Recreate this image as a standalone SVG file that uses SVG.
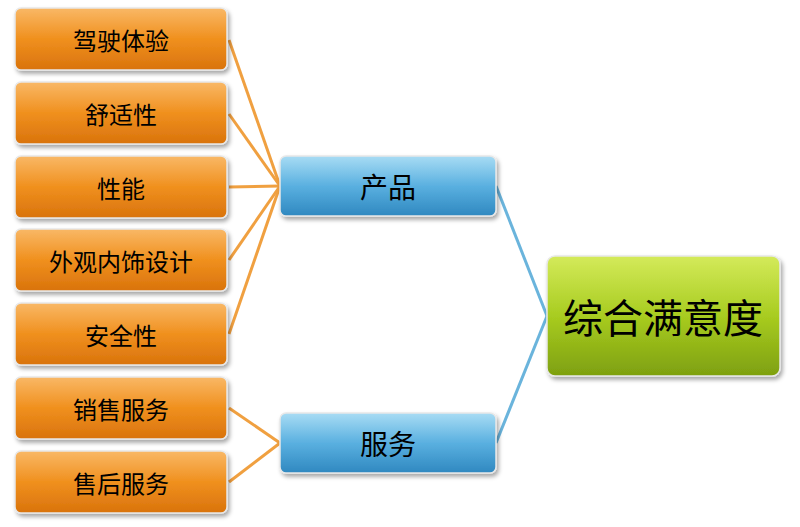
<svg xmlns="http://www.w3.org/2000/svg" width="800" height="527" viewBox="0 0 800 527">
<defs>
<linearGradient id="go" x1="0" y1="0" x2="0" y2="1"><stop offset="0" stop-color="#f9b866"/><stop offset="0.5" stop-color="#f0901e"/><stop offset="1" stop-color="#d9730c"/></linearGradient>
<linearGradient id="gb" x1="0" y1="0" x2="0" y2="1"><stop offset="0" stop-color="#a8dcf4"/><stop offset="0.5" stop-color="#5ab0e0"/><stop offset="1" stop-color="#2f88c0"/></linearGradient>
<linearGradient id="gg" x1="0" y1="0" x2="0" y2="1"><stop offset="0" stop-color="#d4ea5a"/><stop offset="0.5" stop-color="#a8cc20"/><stop offset="1" stop-color="#7ea010"/></linearGradient>
<filter id="sh" x="-10%" y="-10%" width="130%" height="140%"><feDropShadow dx="2" dy="3" stdDeviation="2" flood-color="#000" flood-opacity="0.35"/></filter>
</defs>
<style>
.o{fill:url(#go);stroke:#e8e8e8;stroke-width:1.5;filter:url(#sh)}
.b{fill:url(#gb);stroke:#e8e8e8;stroke-width:1.5;filter:url(#sh)}
.g{fill:url(#gg);stroke:#e8e8e8;stroke-width:1.5;filter:url(#sh)}
text{font-family:"Noto Sans CJK SC",sans-serif;fill:#000;text-anchor:middle;dominant-baseline:central}
.t{font-size:24px}.m{font-size:28px}.l{font-size:40px}
.co{stroke:#f0a040;stroke-width:3;fill:none}
.cb{stroke:#6ab4dc;stroke-width:3;fill:none}
</style>
<rect width="800" height="527" fill="#fff"/>
<g id="connectors">
<path class="co" d="M229 40 L280 186"/>
<path class="co" d="M229 114 L280 186"/>
<path class="co" d="M229 187 L280 186"/>
<path class="co" d="M229 260 L280 186"/>
<path class="co" d="M229 334 L280 186"/>
<path class="co" d="M229 408 L280 443"/>
<path class="co" d="M229 482 L280 443"/>
<path class="cb" d="M496 186 L547 316"/>
<path class="cb" d="M496 443 L547 316"/>
</g>
<g id="n1"><rect class="o" x="15" y="8" width="212" height="62" rx="6"/><text class="t" x="121" y="39">驾驶体验</text></g>
<g id="n2"><rect class="o" x="15" y="82" width="212" height="62" rx="6"/><text class="t" x="121" y="113">舒适性</text></g>
<g id="n3"><rect class="o" x="15" y="156" width="212" height="62" rx="6"/><text class="t" x="121" y="187">性能</text></g>
<g id="n4"><rect class="o" x="15" y="229" width="212" height="62" rx="6"/><text class="t" x="121" y="260">外观内饰设计</text></g>
<g id="n5"><rect class="o" x="15" y="303" width="212" height="62" rx="6"/><text class="t" x="121" y="334">安全性</text></g>
<g id="n6"><rect class="o" x="15" y="377" width="212" height="62" rx="6"/><text class="t" x="121" y="408">销售服务</text></g>
<g id="n7"><rect class="o" x="15" y="451" width="212" height="62" rx="6"/><text class="t" x="121" y="482">售后服务</text></g>
<g id="product"><rect class="b" x="280" y="156" width="216" height="60" rx="6"/><text class="m" x="388" y="186">产品</text></g>
<g id="service"><rect class="b" x="280" y="413" width="216" height="60" rx="6"/><text class="m" x="388" y="443">服务</text></g>
<g id="overall"><rect class="g" x="547" y="256" width="233" height="120" rx="8"/><text class="l" x="663" y="316">综合满意度</text></g>
</svg>
